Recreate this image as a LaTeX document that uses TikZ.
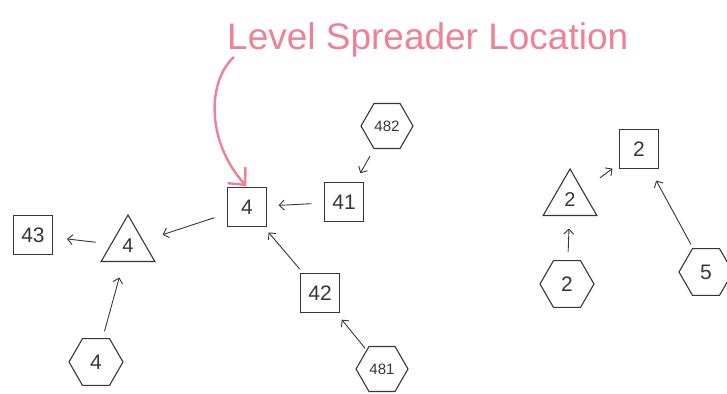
\documentclass[tikz,border=0pt]{standalone}
\usepackage{fontspec}
\setmainfont{Liberation Sans}
\usetikzlibrary{shapes.geometric,arrows.meta}
\definecolor{pinkish}{RGB}{240,128,148}
\definecolor{ink}{RGB}{55,55,55}
\begin{document}
\begin{tikzpicture}[x=1pt,y=-1pt,
  box/.style={draw=ink,line width=1.2pt,minimum size=39pt,inner sep=0pt,text=ink,font=\fontsize{21}{21}\selectfont},
  hexa/.style={draw=ink,line width=1.1pt,regular polygon,regular polygon sides=6,minimum size=54pt,inner sep=0pt,text=ink,font=\fontsize{21}{21}\selectfont},
  smallhexa/.style={hexa,minimum size=52pt,font=\fontsize{15}{15}\selectfont},
  tri/.style={draw=ink,line width=1.1pt,regular polygon,regular polygon sides=3,minimum size=62pt,inner sep=0pt,text=ink,font=\fontsize{20}{20}\selectfont},
  link/.style={draw=ink,line width=0.9pt,-{Straight Barb[length=5pt,width=10pt]}},
  callout/.style={draw=pinkish,line width=2.4pt,-{Straight Barb[length=13pt,width=24pt,line width=2.4pt]}}]
\useasboundingbox (0,0) rectangle (727,393);
% title
\node[text=pinkish,font=\fontsize{37}{37}\selectfont,anchor=base west,inner sep=0pt] (title) at (227,50) {Level Spreader Location};
\coordinate (cstart) at (234,57);
% left cluster
\node[box] (b43) at (33,235) {43};
\node[tri,text depth=-4pt] (t4) at (128,246) {4};
\node[hexa] (h4) at (96,362) {4};
\node[box] (b4) at (247,207) {4};
\node[box] (b41) at (344,202) {41};
\node[smallhexa] (h482) at (387,126) {482};
\node[box] (b42) at (320,293) {42};
\node[smallhexa] (h481) at (382,369) {481};
% right cluster
\node[box] (b2) at (639,149) {2};
\node[tri] (t2) at (570,200) {2};
\node[hexa] (h2) at (567,284) {2};
\node[hexa] (h5) at (706,272) {5};
% connectors
\draw[link,shorten <=15pt,shorten >=14pt] (t4) -- (b43);
\draw[link,shorten <=7pt,shorten >=16pt] (h4) -- (t4);
\draw[link,shorten <=13pt,shorten >=20pt] (b4) -- (t4);
\draw[link,shorten <=12.5pt,shorten >=11.5pt] (b41) -- (b4);
\draw[link,shorten <=8pt,shorten >=10pt] (h482) -- (b41);
\draw[link,shorten <=5pt,shorten >=7pt] (b42) -- (b4);
\draw[link,shorten <=2pt,shorten >=8.5pt] (h481) -- (b42);
\draw[link,shorten <=21pt,shorten >=8pt] (t2) -- (b2);
\draw[link,shorten <=8.5pt,shorten >=12.5pt] (h2) -- (t2);
\draw[link,shorten <=4pt,shorten >=13pt] (h5) -- (b2);
% callout arrow
\draw[callout,shorten >=1pt] (cstart) .. controls (208,80) and (205,140) .. (b4.north);
\end{tikzpicture}
\end{document}
